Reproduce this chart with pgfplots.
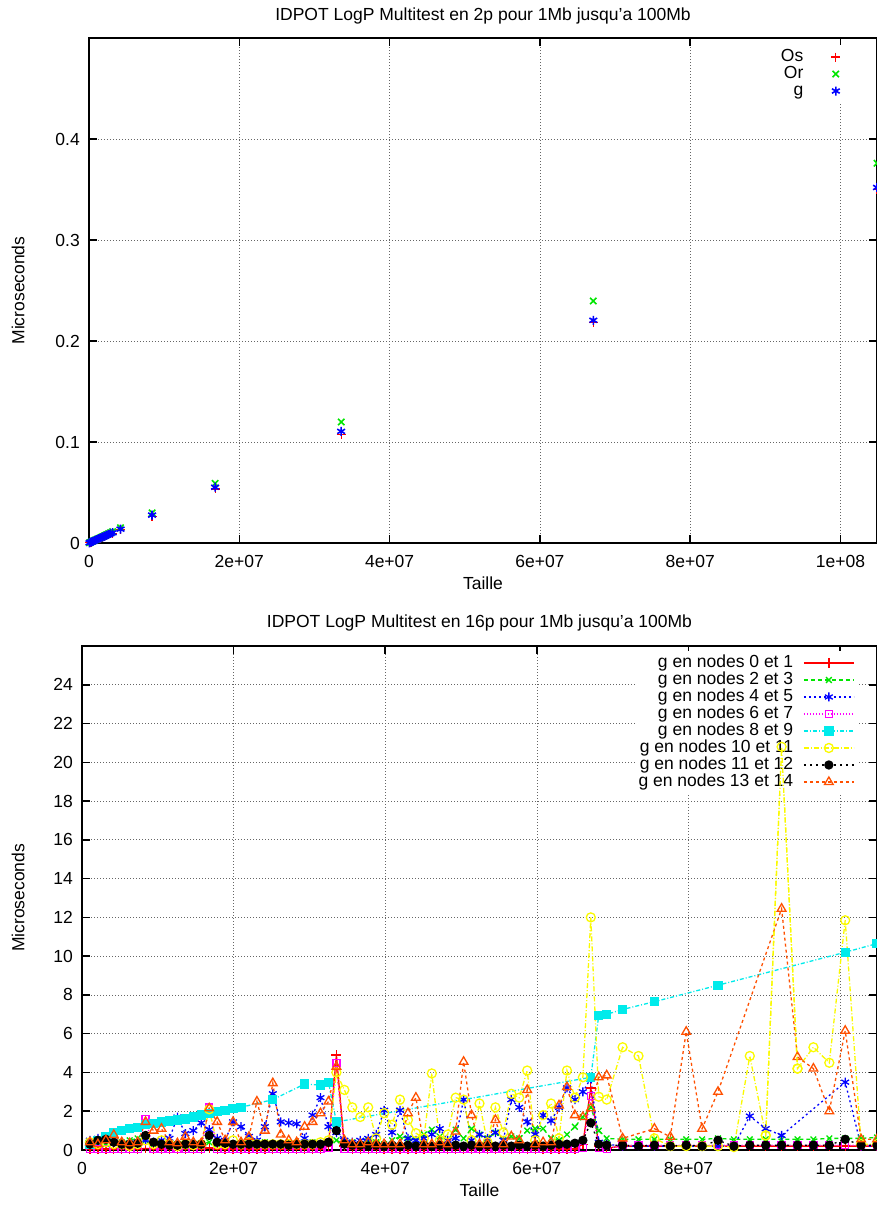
\documentclass[border=0pt]{standalone}
\usepackage{fontspec}
\setmainfont{Liberation Sans}
\usepackage{pgfplots}
\usepackage{pgfplotstable}
\pgfplotsset{compat=1.18}
\newcommand{\fsz}{\fontsize{17.5}{21}\selectfont}
\definecolor{gpred}{RGB}{255,0,0}
\definecolor{gpgreen}{RGB}{0,230,0}
\definecolor{gpblue}{RGB}{0,0,255}
\definecolor{gpmag}{RGB}{255,0,255}
\definecolor{gpcyan}{RGB}{0,235,235}
\definecolor{gpyellow}{RGB}{250,250,0}
\definecolor{gporange}{RGB}{255,80,0}

\pgfplotstableread{
x os or g
0.0625 0.0002 0.0002 0.0002
0.25 0.0008 0.0009 0.0009
0.5 0.0016 0.0019 0.0017
0.75 0.0025 0.0028 0.0026
1 0.0033 0.0037 0.0034
1.25 0.0041 0.0046 0.0043
1.5 0.0049 0.0056 0.0051
1.75 0.0057 0.0065 0.0060
2 0.0066 0.0075 0.0068
2.25 0.0074 0.0084 0.0077
2.5 0.0082 0.0093 0.0085
2.75 0.0090 0.0103 0.0094
3 0.0098 0.0112 0.0102
4 0.0131 0.0150 0.0137
8 0.0265 0.0298 0.0276
16 0.0535 0.0590 0.0552
32 0.1075 0.1198 0.1105
64 0.2180 0.2396 0.2205
100 0.3500 0.3760 0.3520
}\toptab

\pgfplotstableread{
x red grn blu mag yel blk org
1  0.05 0.20 0.50 0.05 0.40 0.30 0.40
2  0.05 0.30 0.60 0.05 0.30 0.50 0.30
3  0.05 0.30 0.67 0.05 0.40 0.55 0.50
4  0.05 0.40 0.40 0.05 0.30 0.40 0.78
5  0.06 0.40 0.30 0.05 0.30 0.30 0.40
6  0.05 0.50 0.35 0.05 0.20 0.30 0.35
7  0.05 0.60 0.40 0.05 0.30 0.35 0.40
8  0.08 0.50 0.50 1.60 0.50 0.75 1.45
9  0.05 0.30 0.40 0.05 0.30 0.40 1.00
10 0.05 0.30 0.50 0.05 0.50 0.30 1.10
11 0.05 0.30 0.60 0.05 0.30 0.25 0.40
12 0.05 0.30 1.70 0.05 0.20 0.25 0.35
13 0.05 0.20 0.85 0.05 0.30 0.30 0.68
14 0.05 0.30 1.00 0.05 0.25 0.30 0.40
15 0.05 0.30 1.40 0.05 0.30 0.30 0.35
16 0.10 0.40 1.05 2.20 2.10 0.75 2.15
17 0.05 0.30 0.60 0.05 0.30 0.40 1.45
18 0.05 0.40 0.50 0.05 0.30 0.35 0.50
19 0.05 0.30 1.45 0.05 0.50 0.30 1.45
20 0.05 0.35 1.20 0.05 0.30 0.30 0.40
21 0.05 0.30 0.70 0.05 0.40 0.30 0.68
22 0.05 0.30 0.50 0.05 0.30 0.30 2.50
23 0.05 0.40 1.20 0.05 0.30 0.30 1.00
24 0.05 0.30 2.90 0.05 0.30 0.30 3.45
25 0.05 0.30 1.45 0.05 0.30 0.30 0.80
26 0.05 0.30 1.40 0.05 0.30 0.25 0.50
27 0.05 0.30 1.35 0.05 0.30 0.30 0.40
28 0.05 0.35 0.60 0.05 0.30 0.30 1.20
29 0.05 0.40 1.80 0.05 0.30 0.30 1.45
30 0.05 0.30 2.70 0.05 0.40 0.30 1.90
31 0.20 0.40 1.20 0.10 0.50 0.40 2.50
32 4.90 0.50 0.90 4.50 4.00 1.00 4.30
33 0.20 0.30 0.50 0.05 3.10 0.30 0.50
34 0.05 0.40 0.40 0.05 2.20 0.25 0.30
35 0.05 0.30 0.50 0.05 1.70 0.25 0.30
36 0.05 0.50 0.60 0.05 2.20 0.20 0.40
37 0.05 0.40 0.80 0.05 0.60 0.25 0.30
38 0.05 0.30 2.05 0.05 1.90 0.20 0.30
39 0.05 0.50 0.90 0.05 1.30 0.25 0.30
40 0.05 0.70 2.05 0.05 2.60 0.20 0.30
41 0.05 0.60 0.60 0.05 1.55 0.25 1.90
42 0.05 0.50 0.50 0.05 0.87 0.20 2.70
43 0.05 0.80 0.60 0.05 0.60 0.25 0.30
44 0.05 1.05 0.80 0.05 3.95 0.20 0.30
45 0.05 0.70 1.10 0.05 0.50 0.25 0.40
46 0.05 0.50 0.50 0.05 0.80 0.20 0.30
47 0.05 1.05 0.60 0.05 2.70 0.25 0.95
48 0.05 0.60 2.60 0.05 2.60 0.20 4.55
49 0.05 1.10 0.50 0.05 0.50 0.25 1.80
50 0.05 0.80 0.80 0.05 2.40 0.20 0.30
51 0.05 0.60 0.60 0.05 0.40 0.25 0.30
52 0.05 0.90 0.90 0.05 2.20 0.20 1.55
53 0.05 0.50 0.50 0.05 0.90 0.25 0.30
54 0.05 0.70 2.60 0.05 2.90 0.20 0.70
55 0.05 0.60 2.20 0.05 2.70 0.25 0.50
56 0.05 1.00 1.45 0.05 4.10 0.20 3.10
57 0.05 1.10 0.80 0.05 0.50 0.25 0.30
58 0.05 1.10 1.80 0.05 1.80 0.20 0.40
59 0.05 0.60 1.50 0.05 2.40 0.25 0.40
60 0.05 0.50 2.20 0.05 0.60 0.30 2.30
61 0.05 0.80 3.20 0.05 4.10 0.30 3.25
62 0.05 1.20 2.60 0.05 2.70 0.35 1.80
63 0.30 1.70 3.00 0.10 3.75 0.50 1.70
64 3.20 2.20 3.70 2.80 12.0 1.40 2.15
65 0.20 1.00 0.40 0.10 2.75 0.30 3.75
66 0.10 0.60 0.30 0.05 2.60 0.25 3.85
68 0.20 0.55 0.20 0.25 5.30 0.25 0.60
70 0.20 0.55 0.20 0.25 4.85 0.20 nan
72 0.20 0.55 0.20 0.25 0.60 0.25 1.10
74 0.20 0.55 0.20 0.25 0.20 0.20 0.68
76 0.20 0.55 0.20 0.25 0.20 0.25 6.10
78 0.20 0.55 0.20 0.25 0.20 0.20 1.10
80 0.20 0.60 0.20 0.25 0.20 0.50 3.00
82 0.20 0.55 0.20 0.25 0.15 0.20 nan
84 0.20 0.55 1.75 0.25 4.85 0.25 nan
86 0.20 0.55 1.10 0.25 0.75 0.25 nan
88 0.20 0.55 0.75 0.25 20.8 0.25 12.45
90 0.20 0.55 nan 0.25 4.20 0.25 4.80
92 0.20 0.55 nan 0.25 5.30 0.25 4.20
94 0.20 0.60 nan 0.25 4.50 0.25 2.00
96 0.20 0.60 3.50 0.25 11.85 0.55 6.15
98 0.20 0.60 0.20 0.25 0.30 0.25 0.55
100 0.20 0.65 0.20 0.25 0.30 0.25 0.55
}\bottab

\pgfplotsset{gp/.style={
  scale only axis, anchor=south west,
  xmin=0, xmax=100,
  xtick={0,19.0735,38.147,57.2205,76.294,95.3674},
  xticklabels={0,2e+07,4e+07,6e+07,8e+07,1e+08},
  tick align=inside, major tick length=8pt,
  every tick/.style={black, line width=1.6pt},
  axis line style={line width=1.6pt},
  grid=major, major grid style={black!60, line width=0.8pt, dash pattern=on 1.2pt off 1.8pt},
  tick label style={font=\fsz},
  xticklabel style={anchor=center, yshift=-18pt},
  yticklabel style={anchor=east, inner sep=0pt, xshift=-9pt},
  label style={font=\fsz},
  title style={font=\fsz, anchor=center, yshift=0pt},
  xlabel={Taille}, ylabel={Microseconds},
  legend cell align=right, legend plot pos=right,
}}

\begin{document}
\begin{tikzpicture}
\useasboundingbox (0,0) rectangle (877pt,1205pt);
\begin{axis}[gp,
  at={(89pt,662pt)}, width=788pt, height=505pt,
  ymin=0, ymax=0.5,
  ytick={0,0.1,0.2,0.3,0.4}, yticklabels={0,0.1,0.2,0.3,0.4},
  title={IDPOT LogP Multitest en 2p pour 1Mb jusqu'a 100Mb},
  title style={at={(axis description cs:0.5,1.0317)}},
  xlabel style={at={(axis description cs:0.5,-0.0792)}, anchor=center},
  ylabel style={at={(axis description cs:-0.0901,0.5)}, anchor=center},
  legend style={at={(axis description cs:0.9588,0.987)}, anchor=north east,
    draw=none, fill=white, inner sep=4pt, font=\fsz, column sep=28pt, row sep=0.5pt,
    nodes={inner sep=0pt, text height=12.5pt, text depth=4pt}},
]
\addplot[only marks, color=gpred, mark=+, mark size=4.5pt, line width=1.1pt] table[x=x, y=os] {\toptab};
\addlegendentry{Os}
\addplot[only marks, color=gpgreen, mark=x, mark size=4.5pt, line width=1.6pt] table[x=x, y=or] {\toptab};
\addlegendentry{Or}
\addplot[only marks, color=gpblue, mark=asterisk, mark size=4.5pt, line width=1.6pt] table[x=x, y=g] {\toptab};
\addlegendentry{g}
\end{axis}

\begin{axis}[gp,
  at={(82pt,55pt)}, width=795pt, height=504pt,
  ymin=0, ymax=26,
  ytick={0,2,4,6,8,10,12,14,16,18,20,22,24},
  yticklabels={0,2,4,6,8,10,12,14,16,18,20,22,24},
  title={IDPOT LogP Multitest en 16p pour 1Mb jusqu'a 100Mb},
  title style={at={(axis description cs:0.5,1.0337)}},
  xlabel style={at={(axis description cs:0.5,-0.0794)}, anchor=center},
  ylabel style={at={(axis description cs:-0.0805,0.5)}, anchor=center},
  legend style={at={(axis description cs:0.977,0.991)}, anchor=north east,
    draw=none, fill=white, inner sep=4pt, font=\fsz, column sep=10pt, row sep=0.5pt,
    nodes={inner sep=0pt, text height=12.5pt, text depth=4pt}},
  legend image code/.code={\draw[mark repeat=2,mark phase=2,#1] plot coordinates {(0pt,0pt) (25pt,0pt) (50pt,0pt)};},
  every axis plot/.append style={line width=1.3pt, mark options={solid}},
]
\addplot[color=gpred, solid, mark=+, mark size=5pt] table[x=x, y=red] {\bottab};
\addlegendentry{g en nodes 0 et 1}
\addplot[color=gpgreen, dash pattern=on 4pt off 3pt, mark=x, mark size=4pt] table[x=x, y=grn] {\bottab};
\addlegendentry{g en nodes 2 et 3}
\addplot[color=gpblue, dash pattern=on 2pt off 3pt, mark=asterisk, mark size=4.5pt] table[x=x, y=blu] {\bottab};
\addlegendentry{g en nodes 4 et 5}
\addplot[color=gpmag, dash pattern=on 1pt off 2pt, mark=square, mark size=3.5pt] table[x=x, y=mag] {\bottab};
\addlegendentry{g en nodes 6 et 7}
\addplot[color=gpcyan, dash pattern=on 4pt off 2pt on 1pt off 2pt, mark=square*, mark size=4pt] coordinates {
(1,0.3) (2,0.5) (3,0.7) (4,0.9) (5,1.0) (6,1.1) (7,1.15) (8,1.3) (9,1.35) (10,1.45)
(11,1.5) (12,1.55) (13,1.6) (14,1.7) (15,1.8) (16,1.9) (17,2.0) (18,2.05) (19,2.15) (20,2.2)
(24,2.6) (28,3.4) (30,3.35) (31,3.5) (32,1.45) (64,3.75) (65,6.95) (66,7.0) (68,7.25)
(72,7.65) (80,8.5) (96,10.2) (100,10.65)};
\addlegendentry{g en nodes 8 et 9}
\addplot[color=gpyellow, dash pattern=on 5pt off 2pt on 1pt off 2pt, mark=o, mark size=4.5pt] table[x=x, y=yel] {\bottab};
\addlegendentry{g en nodes 10 et 11}
\addplot[color=black, dash pattern=on 2pt off 4pt, mark=*, mark size=4pt] table[x=x, y=blk] {\bottab};
\addlegendentry{g en nodes 11 et 12}
\addplot[color=gporange, dash pattern=on 3pt off 3pt, mark=triangle, mark size=5pt] table[x=x, y=org] {\bottab};
\addlegendentry{g en nodes 13 et 14}
\end{axis}

% overlay: the part of series 10 et 11 that crosses the key, drawn above it
\begin{axis}[scale only axis, anchor=south west, hide axis,
  at={(82pt,55pt)}, width=795pt, height=504pt,
  xmin=0, xmax=100, ymin=0, ymax=26]
\addplot[color=gpyellow, line width=1.3pt, dash pattern=on 5pt off 2pt on 1pt off 2pt, mark=o, mark size=4.5pt, mark options={solid}]
  coordinates {(86,0.75) (88,20.8) (90,4.20)};
\end{axis}
\end{tikzpicture}
\end{document}
